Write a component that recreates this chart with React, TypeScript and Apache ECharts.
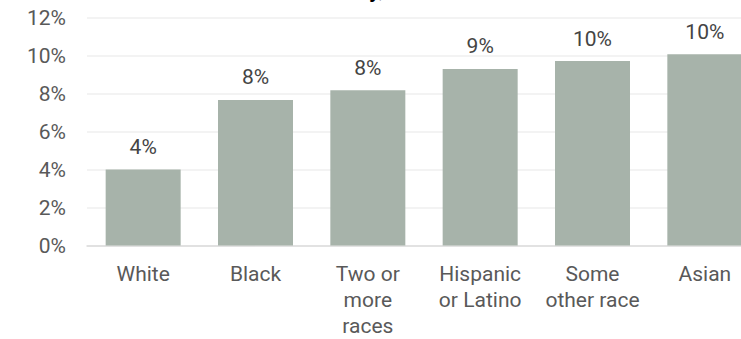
import React, { useEffect, useRef } from "react";
import * as echarts from "echarts";

const categories = ["White", "Black", "Two or\nmore\nraces", "Hispanic\nor Latino", "Some\nother race", "Asian"];
const values = [4.0, 7.66, 8.17, 9.29, 9.71, 10.07];
const yTicks = { min: 0, max: 12, interval: 2 };
const titleTail = "Race and Ethnicity,";

export default function App() {
  const ref = useRef<HTMLDivElement>(null);
  useEffect(() => {
    document.body.style.margin = "0";
    const chart = echarts.init(ref.current!, null, { renderer: "svg" });
    const font = "Roboto, 'Liberation Sans', sans-serif";
    chart.setOption({
      animation: false,
      textStyle: { fontFamily: font },
      graphic: [
        {
          type: "text",
          x: 384,
          y: -11,
          style: {
            text: titleTail,
            align: "right",
            verticalAlign: "middle",
            fontSize: 22,
            fontWeight: "bold",
            fontFamily: font,
            fill: "#000",
          },
        },
      ],
      grid: { left: 87, top: 17.5, height: 228, width: 674, outerBoundsMode: "none", containLabel: false },
      xAxis: {
        type: "category",
        data: categories,
        axisTick: { show: false },
        axisLine: { lineStyle: { color: "#dcdcdc", width: 1.5 } },
        axisLabel: {
          color: "#595959",
          fontSize: 21,
          lineHeight: 26,
          margin: 15,
          interval: 0,
          fontFamily: font,
        },
      },
      yAxis: {
        type: "value",
        min: yTicks.min,
        max: yTicks.max,
        interval: yTicks.interval,
        axisLabel: {
          formatter: "{value}%",
          color: "#595959",
          fontSize: 21,
          margin: 21,
          fontFamily: font,
        },
        splitLine: { lineStyle: { color: "#efefef", width: 1.5 } },
        axisLine: { show: false },
        axisTick: { show: false },
      },
      series: [
        {
          type: "bar",
          data: values,
          barWidth: 75,
          itemStyle: { color: "#a7b3aa" },
          label: {
            show: true,
            position: "top",
            distance: 12,
            color: "#444",
            fontSize: 21,
            fontFamily: font,
            formatter: (p: any) => Math.round(p.value) + "%",
          },
        },
      ],
    });
    return () => chart.dispose();
  }, []);
  return <div ref={ref} style={{ width: 741, height: 339 }} />;
}
